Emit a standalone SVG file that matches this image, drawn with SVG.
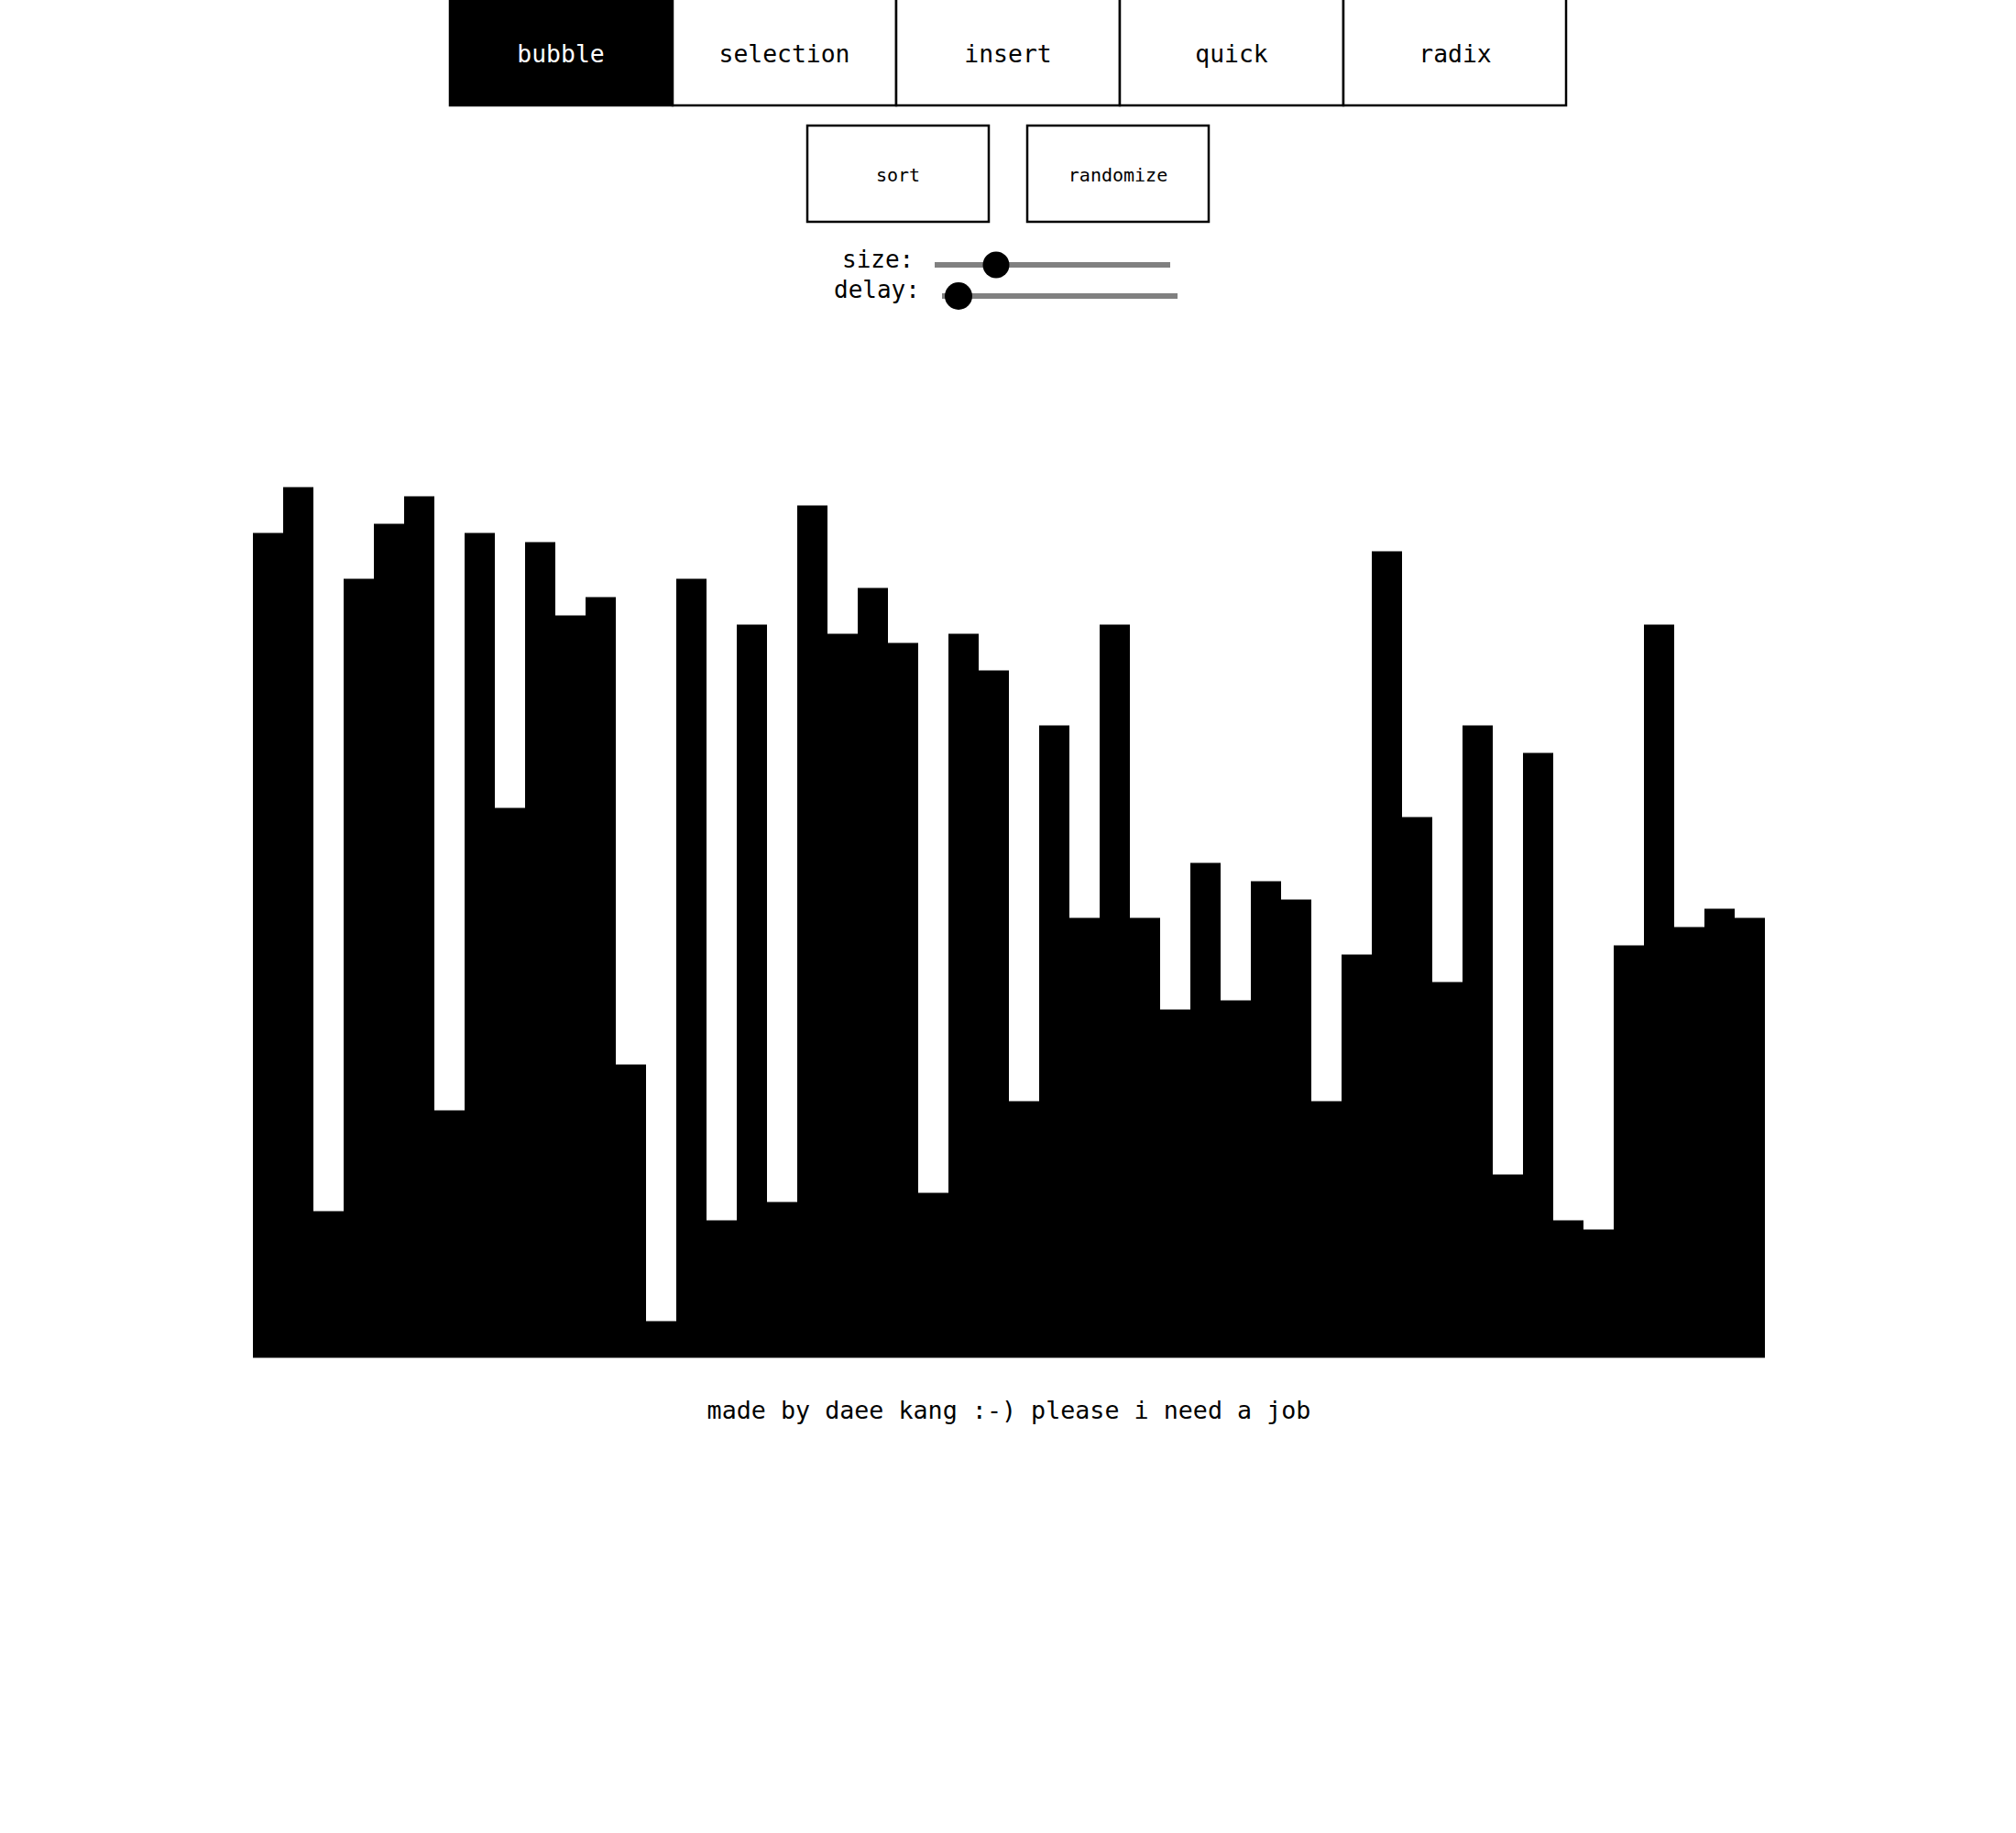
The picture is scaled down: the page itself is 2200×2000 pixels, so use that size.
<svg xmlns="http://www.w3.org/2000/svg" width="2200" height="2000" viewBox="0 0 2200 2000">
<style>
.t{font-family:"DejaVu Sans Mono","Liberation Mono",monospace;fill:#000}
.tab{fill:#fff;stroke:#000;stroke-width:2.5}
.btn{fill:#fff;stroke:#000;stroke-width:2.5}
.track{stroke:#808080;stroke-width:6}
.bar{fill:#000}
</style>
<rect width="2200" height="2000" fill="#fff"/>
<g id="tabs">
<g id="tab-bubble"><rect x="491" y="-3" width="243" height="118" fill="#000" stroke="#000" stroke-width="2.5"/><text class="t" x="612" y="68" font-size="26.4" text-anchor="middle" fill="#fff" style="fill:#fff">bubble</text></g>
<g id="tab-selection"><rect class="tab" x="734" y="-3" width="244" height="118"/><text class="t" x="856" y="68" font-size="26.4" text-anchor="middle">selection</text></g>
<g id="tab-insert"><rect class="tab" x="978" y="-3" width="244" height="118"/><text class="t" x="1100" y="68" font-size="26.4" text-anchor="middle">insert</text></g>
<g id="tab-quick"><rect class="tab" x="1222" y="-3" width="244" height="118"/><text class="t" x="1344" y="68" font-size="26.4" text-anchor="middle">quick</text></g>
<g id="tab-radix"><rect class="tab" x="1466" y="-3" width="243" height="118"/><text class="t" x="1588" y="68" font-size="26.4" text-anchor="middle">radix</text></g>
</g>
<g id="btn-sort"><rect class="btn" x="881" y="137" width="198" height="105"/><text class="t" x="980" y="198" font-size="20" text-anchor="middle">sort</text></g>
<g id="btn-randomize"><rect class="btn" x="1121" y="137" width="198" height="105"/><text class="t" x="1220" y="198" font-size="20" text-anchor="middle">randomize</text></g>
<g id="slider-size">
<text class="t" x="919" y="292" font-size="26">size:</text>
<line class="track" x1="1020" y1="289" x2="1277" y2="289"/>
<circle cx="1087" cy="289" r="14.5" fill="#000"/>
</g>
<g id="slider-delay">
<text class="t" x="910" y="325" font-size="26">delay:</text>
<line class="track" x1="1028" y1="323" x2="1285" y2="323"/>
<circle cx="1046" cy="323" r="15" fill="#000"/>
</g>
<g id="bars" class="bar" transform="translate(0,1.5)">
<rect x="276" y="580" width="33" height="900"/>
<rect x="309" y="530" width="33" height="950"/>
<rect x="342" y="1320" width="33" height="160"/>
<rect x="375" y="630" width="33" height="850"/>
<rect x="408" y="570" width="33" height="910"/>
<rect x="441" y="540" width="33" height="940"/>
<rect x="474" y="1210" width="33" height="270"/>
<rect x="507" y="580" width="33" height="900"/>
<rect x="540" y="880" width="33" height="600"/>
<rect x="573" y="590" width="33" height="890"/>
<rect x="606" y="670" width="33" height="810"/>
<rect x="639" y="650" width="33" height="830"/>
<rect x="672" y="1160" width="33" height="320"/>
<rect x="705" y="1440" width="33" height="40"/>
<rect x="738" y="630" width="33" height="850"/>
<rect x="771" y="1330" width="33" height="150"/>
<rect x="804" y="680" width="33" height="800"/>
<rect x="837" y="1310" width="33" height="170"/>
<rect x="870" y="550" width="33" height="930"/>
<rect x="903" y="690" width="33" height="790"/>
<rect x="936" y="640" width="33" height="840"/>
<rect x="969" y="700" width="33" height="780"/>
<rect x="1002" y="1300" width="33" height="180"/>
<rect x="1035" y="690" width="33" height="790"/>
<rect x="1068" y="730" width="33" height="750"/>
<rect x="1101" y="1200" width="33" height="280"/>
<rect x="1134" y="790" width="33" height="690"/>
<rect x="1167" y="1000" width="33" height="480"/>
<rect x="1200" y="680" width="33" height="800"/>
<rect x="1233" y="1000" width="33" height="480"/>
<rect x="1266" y="1100" width="33" height="380"/>
<rect x="1299" y="940" width="33" height="540"/>
<rect x="1332" y="1090" width="33" height="390"/>
<rect x="1365" y="960" width="33" height="520"/>
<rect x="1398" y="980" width="33" height="500"/>
<rect x="1431" y="1200" width="33" height="280"/>
<rect x="1464" y="1040" width="33" height="440"/>
<rect x="1497" y="600" width="33" height="880"/>
<rect x="1530" y="890" width="33" height="590"/>
<rect x="1563" y="1070" width="33" height="410"/>
<rect x="1596" y="790" width="33" height="690"/>
<rect x="1629" y="1280" width="33" height="200"/>
<rect x="1662" y="820" width="33" height="660"/>
<rect x="1695" y="1330" width="33" height="150"/>
<rect x="1728" y="1340" width="33" height="140"/>
<rect x="1761" y="1030" width="33" height="450"/>
<rect x="1794" y="680" width="33" height="800"/>
<rect x="1827" y="1010" width="33" height="470"/>
<rect x="1860" y="990" width="33" height="490"/>
<rect x="1893" y="1000" width="33" height="480"/>
</g>
<g id="footer"><text class="t" x="1101" y="1548" font-size="26.7" text-anchor="middle">made by daee kang :-) please i need a job</text></g>
</svg>
